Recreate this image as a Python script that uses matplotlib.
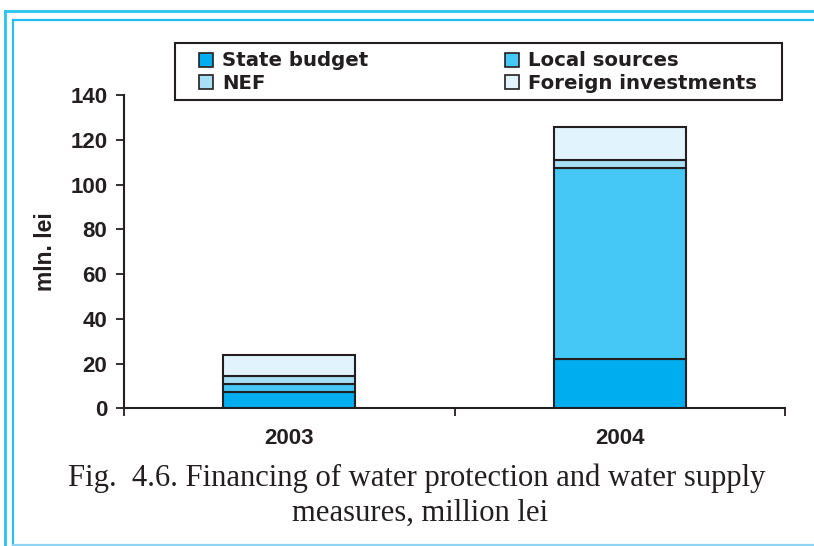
import matplotlib.pyplot as plt
from matplotlib.patches import Patch, Rectangle
from matplotlib.lines import Line2D

# Financing by source, mln. lei
years = ['2003', '2004']
state_budget = [7.2, 22.0]
local_sources = [3.5, 85.3]
nef = [3.9, 3.6]
foreign_investments = [9.1, 14.8]

sources = ['State budget', 'Local sources', 'NEF', 'Foreign investments']
series = [state_budget, local_sources, nef, foreign_investments]
colors = ['#00AEEF', '#45C8F5', '#A8DFF6', '#E1F3FD']
edge = '#231F20'

W, H = 814, 546
fig = plt.figure(figsize=(W / 100, H / 100), dpi=100)


def fx(px):
    return px / W


def fy(py):
    return 1 - py / H


ax = fig.add_axes([fx(124), fy(408.3), fx(785) - fx(124), fy(95) - fy(408.3)])

# Stacked bars
x = range(len(years))
bottom = [0] * len(years)
for name, vals, c in zip(sources, series, colors):
    ax.bar(x, vals, width=0.4, bottom=bottom, color=c, edgecolor=edge,
           linewidth=1.5, label=name, zorder=3)
    bottom = [b + v for b, v in zip(bottom, vals)]

ax.set_xlim(-0.5, 1.5)
ax.set_ylim(0, 140)
ax.set_yticks(range(0, 141, 20))
ax.set_xticks([-0.5, 0.5, 1.5])
ax.set_xticklabels([])
ax.set_xticks([0, 1], minor=True)
ax.set_xticklabels(years, minor=True)
ax.tick_params(axis='x', which='minor', length=0, pad=14)
ax.tick_params(axis='x', which='major', length=6, width=1.3, color=edge)
ax.tick_params(axis='y', length=6, width=1.3, color=edge, pad=6)
for lbl in ax.get_yticklabels() + ax.get_xticklabels(minor=True):
    lbl.set_fontfamily('Liberation Sans')
    lbl.set_fontweight('bold')
    lbl.set_fontsize(16)
    lbl.set_color(edge)
for s in ['top', 'right']:
    ax.spines[s].set_visible(False)
for s in ['left', 'bottom']:
    ax.spines[s].set_linewidth(1.5)
    ax.spines[s].set_color(edge)

ax.set_ylabel('mln. lei', fontfamily='Liberation Sans', fontweight='bold',
              fontsize=16.5, color=edge, labelpad=9.5)

# Legend with a hand-drawn box
fig.patches.append(Rectangle((fx(175), fy(100)), fx(782) - fx(175), fy(43) - fy(100),
                             transform=fig.transFigure, facecolor='white',
                             edgecolor=edge, linewidth=1.5))
handles = [Patch(facecolor=c, edgecolor=edge, linewidth=1.2) for c in colors]
order = [0, 2, 1, 3]
leg = fig.legend([handles[i] for i in order], [sources[i] for i in order],
                 loc='upper left', bbox_to_anchor=(fx(199), fy(51.5)),
                 bbox_transform=fig.transFigure, ncol=2, frameon=False,
                 borderpad=0, borderaxespad=0, handlelength=0.71,
                 handleheight=0.71, handletextpad=0.46, labelspacing=0.16,
                 columnspacing=6.95,
                 prop={'family': 'DejaVu Sans', 'weight': 'bold', 'size': 14.2})
for t in leg.get_texts():
    t.set_color(edge)

# Caption
cap = dict(family='Liberation Serif', size=22.1, color='#231F20', ha='center',
           va='baseline')
fig.text(fx(417), fy(486), 'Fig.  4.6. Financing of water protection and water supply', **cap)
fig.text(fx(420), fy(521), 'measures, million lei', **cap)

# Page frame lines
frame = [
    ((5, 5), (11, 560), '#29C3F1', 2.0),
    ((5, 830), (11, 11), '#29C3F1', 2.0),
    ((13.5, 13.5), (20, 545), '#2BBFEF', 1.6),
    ((13.5, 830), (20, 20), '#1DBBEE', 1.6),
    ((13.5, 830), (545, 545), '#8FD4F2', 1.6),
]
for xs, ys, c, lw in frame:
    fig.lines.append(Line2D([fx(v) for v in xs], [fy(v) for v in ys],
                            transform=fig.transFigure, color=c, linewidth=lw))

fig.savefig('out.png', dpi=100)
